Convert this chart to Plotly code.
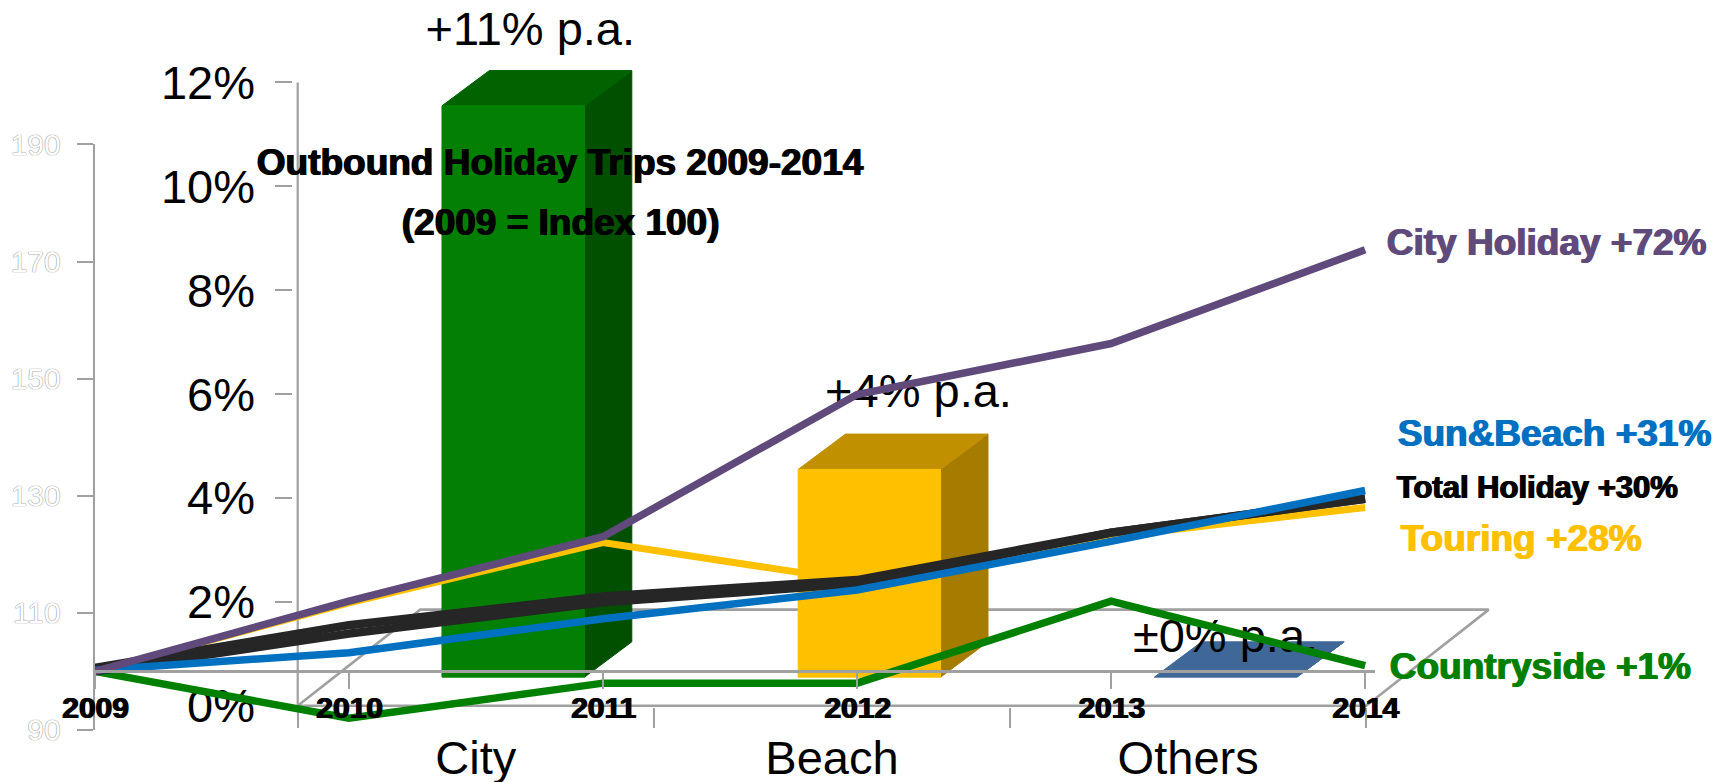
import plotly.graph_objects as go

# ---------- data ----------
years = [2009, 2010, 2011, 2012, 2013, 2014]
city_holiday = [100, 112, 123, 147.3, 156, 172]
sun_beach = [100.2, 103.2, 109, 113.9, 122.2, 130.9]
total_holiday = [100.6, 107.9, 112.8, 115.6, 123.7, 129.5]
total_holiday_lower = [100, 106.45, 111.8, 115, 123.7, 129.5]
touring = [100, 111.7, 122, 115.4, 123, 128]
countryside = [100, 92, 98, 98, 112, 101]

categories = ["City", "Beach", "Others"]
growth_pa = [11, 4, 0]
growth_labels = ["+11% p.a.", "+4% p.a.", "±0% p.a."]
y_ticks_pct = [0, 2, 4, 6, 8, 10, 12]
y_ticks_index = [90, 110, 130, 150, 170, 190]

# ---------- styles / layout constants ----------
PAGE_INSET = 8           # the page body's default margin
W, H = 1729 - PAGE_INSET, 782 - PAGE_INSET
F = 1729 / 1568          # reference measured on the shrunk image
FONT = "Liberation Sans"
GREY = "#A0A0A0"
FRONT = ["#038003", "#FFC000", "#3F6797"]
TOP = ["#006300", "#C09000", "#3F6797"]
SIDE = ["#005000", "#A67C00", "#3F6797"]
BAR_W = 0.40
INSET_X, INSET_Y = 0.105, 0.55   # bars stand inside the floor
DEPTH_X, DEPTH_Y = 0.133, 0.68
FLOOR_X, FLOOR_Y = 0.344, 1.85
LABEL_DX = [0.048, 0.138, 0.0]
LABEL_DY = [0.71, 0.75, 0.04]


def px(x):
    return (x * F - PAGE_INSET) / W


def py(y):
    return 1 - (y * F - PAGE_INSET) / H


# bar subplot geometry (shrunk px)
bx0, bunit = 270, 323
by0, bval = 640, 47.1
bx_range = [-0.012, 3.40]
by_range = [-0.03, 13.2]
bar_xdom = [px(bx0 + bx_range[0] * bunit), px(bx0 + bx_range[1] * bunit)]
bar_ydom = [py(by0 - by_range[0] * bval), py(by0 - by_range[1] * bval)]

# line subplot geometry (shrunk px)
lx0, lx1 = 86, 1238
ly190, ly90 = 131, 662
line_xrange = [2009, 2014.04]
line_xdom = [px(lx0), px(lx1 + (lx1 - lx0) / 5 * 0.04)]
line_ydom = [py(ly90), py(ly190)]
x_axis_pos = line_ydom[0] + (100 - 90) / (190 - 90) * (line_ydom[1] - line_ydom[0])

fig = go.Figure()


def poly(xs, ys, color, name):
    fig.add_trace(go.Scatter(x=xs, y=ys, mode="lines", fill="toself", fillcolor=color,
                             line=dict(color=color, width=1), name=name,
                             xaxis="x", yaxis="y", hoverinfo="skip", showlegend=False))


# floor + value axis line
fig.add_trace(go.Scatter(x=[0, FLOOR_X, 3 + FLOOR_X, 3, 0], y=[0, FLOOR_Y, FLOOR_Y, 0, 0],
                         mode="lines", line=dict(color=GREY, width=2.6), xaxis="x", yaxis="y",
                         hoverinfo="skip", showlegend=False, name="floor"))
fig.add_trace(go.Scatter(x=[0, 0], y=[0, 12], mode="lines", line=dict(color=GREY, width=2.2),
                         xaxis="x", yaxis="y", hoverinfo="skip", showlegend=False, name="value axis"))

# 3D bars computed from values
for i, (cat, v) in enumerate(zip(categories, growth_pa)):
    l = i + 0.5 + INSET_X - BAR_W / 2
    r = l + BAR_W
    b = INSET_Y
    t = INSET_Y + v
    poly([r, r + DEPTH_X, r + DEPTH_X, r, r], [b, b + DEPTH_Y, t + DEPTH_Y, t, b], SIDE[i], cat + " side")
    poly([l, l + DEPTH_X, r + DEPTH_X, r, l], [t, t + DEPTH_Y, t + DEPTH_Y, t, t], TOP[i], cat + " top")
    if v > 0:
        poly([l, r, r, l, l], [b, b, t, t, b], FRONT[i], cat)

# value labels of the bars
fig.add_trace(go.Scatter(
    x=[i + 0.5 + INSET_X + dx for i, dx in enumerate(LABEL_DX)],
    y=[INSET_Y + v + DEPTH_Y + dy for v, dy in zip(growth_pa, LABEL_DY)],
    text=growth_labels, mode="text", textposition="middle center",
    textfont=dict(family=FONT, size=47, color="#000000"),
    cliponaxis=False, xaxis="x", yaxis="y", hoverinfo="skip", showlegend=False, name="growth p.a."))

# index lines
for name, vals, col, w in [
    ("Countryside", countryside, "#008000", 7.5),
    ("Touring", touring, "#FFC000", 7),
    ("Total Holiday", total_holiday, "#262626", 8.5),
    ("Total Holiday (lower edge)", total_holiday_lower, "#262626", 8.5),
    ("Sun&Beach", sun_beach, "#0070C0", 7.5),
    ("City Holiday", city_holiday, "#604A7B", 7.5),
]:
    fig.add_trace(go.Scatter(x=years, y=vals, mode="lines", name=name,
                             line=dict(color=col, width=w),
                             xaxis="x2", yaxis="y2", showlegend=False))

# text labels
BOLD_SHADOW = "1.5px 0 0 {c}"
labels = [
    ("<b>Outbound Holiday Trips 2009-2014</b>", 507, 147, 37, "#000000"),
    ("<b>(2009 = Index 100)</b>", 508, 202, 37, "#000000"),
    ("<b>City Holiday +72%</b>", 1402, 220, 37, "#604A7B"),
    ("<b>Sun&amp;Beach +31%</b>", 1409, 393, 37, "#0070C0"),
    ("<b>Total Holiday +30%</b>", 1393, 442, 31, "#000000"),
    ("<b>Touring +28%</b>", 1379, 488, 37, "#FFC000"),
    ("<b>Countryside +1%</b>", 1396, 604, 37, "#008000"),
]
annotations = [dict(text=t, x=px(x), y=py(y), xref="paper", yref="paper", showarrow=False,
                    xanchor="center", yanchor="middle",
                    font=dict(family=FONT, size=s, color=c, shadow=BOLD_SHADOW.format(c=c)))
               for t, x, y, s, c in labels]

fig.update_layout(
    width=W, height=H, autosize=False,
    margin=dict(l=0, r=0, t=0, b=0, pad=0),
    paper_bgcolor="#FFFFFF", plot_bgcolor="rgba(0,0,0,0)",
    showlegend=False, annotations=annotations,
    font=dict(family=FONT),
    xaxis=dict(domain=bar_xdom, range=bx_range, anchor="y", automargin=False, showgrid=False, zeroline=False,
               showline=False,
               tickmode="array", tickvals=[0.5, 1.5, 2.5], ticktext=categories, ticks="",
               ticklabelstandoff=19, tickfont=dict(family=FONT, size=47, color="#000000"),
               minor=dict(tickmode="array", tickvals=[0, 1, 2, 3], ticks="outside", ticklen=20,
                          tickwidth=1.5, tickcolor=GREY, showgrid=False)),
    yaxis=dict(domain=bar_ydom, range=by_range, anchor="x", automargin=False, showgrid=False, zeroline=False,
               showline=False,
               tickmode="array", tickvals=y_ticks_pct, ticktext=[f"{v}%" for v in y_ticks_pct],
               ticks="outside", ticklen=17, tickwidth=2, tickcolor=GREY, ticklabelstandoff=11,
               tickfont=dict(family=FONT, size=47, color="#000000")),
    xaxis2=dict(domain=line_xdom, range=line_xrange, anchor="free", position=x_axis_pos, automargin=False,
                showgrid=False, zeroline=False, showline=True, linecolor=GREY, linewidth=2.6,
                tickmode="array", tickvals=years, ticktext=[f"<b>{y}</b>" for y in years],
                ticks="outside", ticklen=16, tickwidth=1.5, tickcolor=GREY, ticklabelstandoff=-7,
                tickfont=dict(family=FONT, size=30, color="#000000", shadow="1.5px 0 0 #000000")),
    yaxis2=dict(domain=line_ydom, range=[90, 190], anchor="x2", automargin=False, showgrid=False, zeroline=False,
                showline=True, linecolor=GREY, linewidth=2.2,
                tickmode="array", tickvals=y_ticks_index, ticks="outside", ticklen=16, tickwidth=2,
                tickcolor=GREY, ticklabelstandoff=10,
                tickfont=dict(family=FONT, size=30, color="#FFFFFF",
                              shadow="0 0 1px #888888, 0 0 1px #888888")),
)

fig.write_html("out.html")
